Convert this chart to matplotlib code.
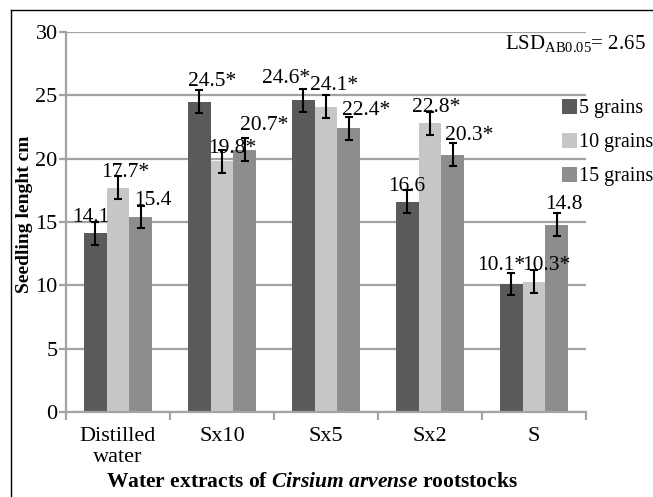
import matplotlib
matplotlib.use("Agg")
import matplotlib.pyplot as plt
import numpy as np
from matplotlib.lines import Line2D

plt.rcParams['font.family'] = ['Liberation Serif', 'DejaVu Serif']
plt.rcParams['mathtext.fontset'] = 'custom'
plt.rcParams['mathtext.rm'] = 'Liberation Serif'
plt.rcParams['mathtext.it'] = 'Liberation Serif:italic:bold'
plt.rcParams['mathtext.bf'] = 'Liberation Serif:bold'

categories = ["Distilled\nwater", "Sx10", "Sx5", "Sx2", "S"]
series_names = ["5 grains", "10 grains", "15 grains"]
grains5 = [14.1, 24.5, 24.6, 16.6, 10.1]
grains10 = [17.7, 19.8, 24.1, 22.8, 10.3]
grains15 = [15.4, 20.7, 22.4, 20.3, 14.8]
labels5 = ["14.1", "24.5*", "24.6*", "16.6", "10.1*"]
labels10 = ["17.7*", "19.8*", "24.1*", "22.8*", "10.3*"]
labels15 = ["15.4", "20.7*", "22.4*", "20.3*", "14.8"]
errors = [0.9, 0.9, 0.9, 0.9, 0.9]
yticks = [0, 5, 10, 15, 20, 25, 30]

# label nudges (pixels): (dx, gap above bar top) per series, per category
nudge5 = [(-4, 11), (13, 16), (-17, 17), (0, 11), (-10, 14)]
nudge10 = [(7, 11), (10, 8), (8, 17), (6, 11), (12, 12)]
nudge15 = [(12, 12), (19, 20), (17, 13), (16, 15), (7, 16)]

colors = ['#5a5a5c', '#c7c7c9', '#8d8d8f']
grid_c = '#a3a3a3'

fig = plt.figure(figsize=(6.53, 4.97), dpi=100)
ax = fig.add_axes([66/653, 1-412/497, (586-66)/653, (412-32)/497])

x = np.arange(len(categories))
w = 0.22
series = [grains5, grains10, grains15]
labels = [labels5, labels10, labels15]
nudges = [nudge5, nudge10, nudge15]
for i, (vals, labs, nd) in enumerate(zip(series, labels, nudges)):
    pos = x + (i-1)*w
    ax.bar(pos, vals, width=w, color=colors[i], label=series_names[i], zorder=2)
    ax.errorbar(pos, vals, yerr=errors, fmt='none', ecolor='black',
                elinewidth=1.5, capsize=3, capthick=1.5, zorder=3)
    for px, v, t, (dx, dy) in zip(pos, vals, labs, nd):
        ax.annotate(t, (px, v), xytext=(dx, dy), textcoords='offset pixels',
                    ha='center', va='baseline', fontsize=15.5, zorder=4)

ax.set_xlim(-0.5, len(categories)-0.5)
ax.set_ylim(0, 30)
ax.set_yticks(yticks)
ax.set_yticklabels([str(v) for v in yticks], fontsize=16)
ax.yaxis.grid(True, color=grid_c, linewidth=1.6, zorder=0)
ax.set_axisbelow(True)
ax.set_xticks(x)
ax.set_xticklabels(categories, fontsize=16, linespacing=1.12)
ax.set_xticks(np.arange(len(categories)+1)-0.5, minor=True)
ax.tick_params(axis='x', which='major', length=0, pad=11)
ax.tick_params(axis='x', which='minor', length=6, width=1.6, color=grid_c)
ax.tick_params(axis='y', length=5, width=1.6, color=grid_c, pad=1)
for s in ['top', 'right']:
    ax.spines[s].set_visible(False)
for s in ['left', 'bottom']:
    ax.spines[s].set_color(grid_c)
    ax.spines[s].set_linewidth(1.6)

fig.text(25/653, 1-214/497, "Seedling lenght cm", rotation=90, fontsize=14,
         fontweight='bold', ha='center', va='center')
fig.text(312/653, 1-482/497,
         r"Water extracts of $\mathit{Cirsium\ arvense}$ rootstocks",
         fontsize=15.5, fontweight='bold', ha='center', va='center')
fig.text(575/653, 1-43/497, r"LSD$_{\mathrm{AB0.05}}$= 2.65", fontsize=15,
         ha='center', va='center')

leg = ax.legend(loc='upper left', bbox_to_anchor=(562/653, 1-99/497),
                bbox_transform=fig.transFigure, frameon=False, fontsize=14.5,
                handlelength=0.75, handleheight=0.75, handletextpad=0.1,
                labelspacing=0.72, borderaxespad=0, borderpad=0)

fig.add_artist(Line2D([11/653, 11/653], [0, 1-10/497], color='black', lw=1,
                      transform=fig.transFigure))
fig.add_artist(Line2D([11/653, 1], [1-10/497, 1-10/497], color='black', lw=1,
                      transform=fig.transFigure))

fig.savefig("out.png", dpi=100)
